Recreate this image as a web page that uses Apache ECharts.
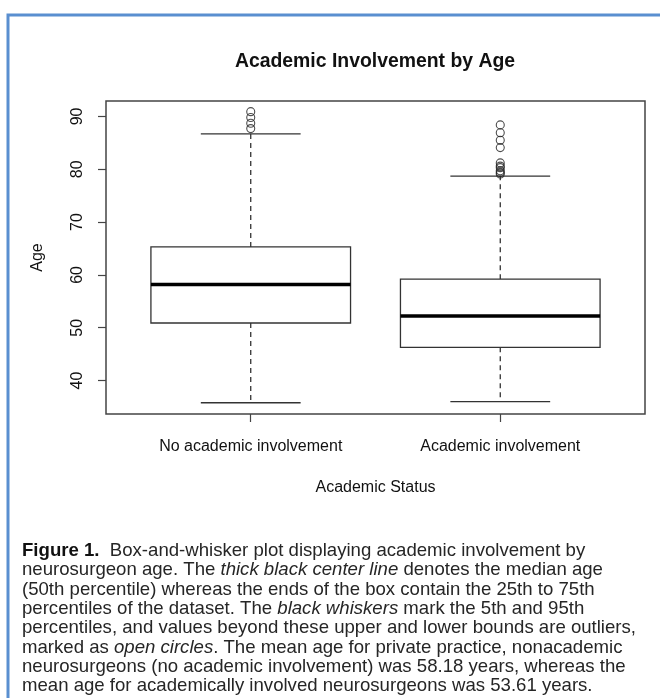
<!DOCTYPE html>
<html><head><meta charset="utf-8">
<script src="https://cdn.jsdelivr.net/npm/echarts@6/dist/echarts.min.js"></script>
<style>html,body{margin:0;padding:0;background:#fff}#c{width:660px;height:698px}</style>
</head><body><div id="c"></div>
<script>
const categories = ['No academic involvement', 'Academic involvement'];
const catPositions = [1, 2];
// [lower whisker, Q1, median, Q3, upper whisker]
const boxNoAcademic = [35.8, 50.9, 58.2, 65.3, 86.7];
const boxAcademic = [36.0, 46.3, 52.2, 59.2, 78.7];
const outliersNoAcademic = [87.7, 88.7, 89.8, 90.9];
const outliersAcademic = [79.1, 79.4, 79.7, 80.3, 80.6, 81.2, 84.1, 85.5, 86.9, 88.4];
const yTicks = [40, 50, 60, 70, 80, 90];
const titleText = 'Academic Involvement by Age';
const captionLines = [
  '{b|Figure 1.}  Box-and-whisker plot displaying academic involvement by',
  'neurosurgeon age. The {i|thick black center line} denotes the median age',
  '(50th percentile) whereas the ends of the box contain the 25th to 75th',
  'percentiles of the dataset. The {i|black whiskers} mark the 5th and 95th',
  'percentiles, and values beyond these upper and lower bounds are outliers,',
  'marked as {i|open circles}. The mean age for private practice, nonacademic',
  'neurosurgeons (no academic involvement) was 58.18 years, whereas the',
  'mean age for academically involved neurosurgeons was 53.61 years.'
];

const boxData = [
  [catPositions[0]].concat(boxNoAcademic),
  [catPositions[1]].concat(boxAcademic)
];
const outlierData = outliersNoAcademic.map(v => [catPositions[0], v])
  .concat(outliersAcademic.map(v => [catPositions[1], v]));

const FONT = "'Liberation Sans', Arial, sans-serif";
const CAP_SIZE = 18.6;
const CAP_COLOR = '#262626';
const chart = echarts.init(document.getElementById('c'), null, {renderer: 'canvas'});

const captionGraphics = captionLines.map((t, i) => ({
  type: 'text', x: 22, y: 551 + i * 19.3,
  style: {
    text: t, fontFamily: FONT, fontSize: CAP_SIZE, fill: CAP_COLOR, textVerticalAlign: 'middle',
    rich: {
      b: {fontWeight: 'bold', fontFamily: FONT, fontSize: CAP_SIZE, fill: '#111'},
      i: {fontStyle: 'italic', fontFamily: FONT, fontSize: CAP_SIZE, fill: CAP_COLOR}
    }
  }
}));

chart.setOption({
  animation: false,
  backgroundColor: '#fff',
  grid: {left: 106, top: 101, width: 539, height: 313, show: true, borderColor: '#444', borderWidth: 1.5, containLabel: false},
  xAxis: {
    type: 'value', min: 0.42, max: 2.58,
    name: 'Academic Status', nameLocation: 'middle', nameGap: 66,
    nameTextStyle: {fontFamily: FONT, fontSize: 16, color: '#111'},
    axisLine: {show: false},
    splitLine: {show: false},
    axisTick: {show: true, inside: false, length: 8, customValues: catPositions, lineStyle: {color: '#444', width: 1.2}},
    axisLabel: {show: true, margin: 25, customValues: catPositions, fontFamily: FONT, fontSize: 16, color: '#111',
      formatter: v => categories[catPositions.indexOf(Math.round(v))] || ''}
  },
  yAxis: {
    type: 'value', min: 33.67, max: 92.92,
    name: 'Age', nameLocation: 'middle', nameGap: 60, nameRotate: 90,
    nameTextStyle: {fontFamily: FONT, fontSize: 16, color: '#111'},
    axisLine: {show: false},
    splitLine: {show: false},
    axisTick: {show: true, inside: false, length: 8, customValues: yTicks, lineStyle: {color: '#444', width: 1.2}},
    axisLabel: {show: true, rotate: 90, margin: 20, customValues: yTicks, fontFamily: FONT, fontSize: 16, color: '#111',
      verticalAlign: 'bottom', align: 'center'}
  },
  graphic: [
    {type: 'rect', shape: {x: 8, y: 15, width: 720, height: 720}, style: {fill: 'none', stroke: '#5a8fd0', lineWidth: 3}, silent: true},
    {type: 'text', x: 375, y: 62, style: {text: titleText, fontFamily: FONT, fontSize: 19.4, fontWeight: 'bold', fill: '#111', textAlign: 'center', textVerticalAlign: 'middle'}}
  ].concat(captionGraphics),
  series: [
    {
      type: 'custom',
      data: boxData,
      z: 2,
      renderItem: function (params, api) {
        const x = api.value(0);
        const lo = api.value(1), q1 = api.value(2), med = api.value(3), q3 = api.value(4), hi = api.value(5);
        const half = api.size([0.4, 0])[0];
        const cx = api.coord([x, med])[0];
        const yLo = api.coord([x, lo])[1], yQ1 = api.coord([x, q1])[1], yMed = api.coord([x, med])[1];
        const yQ3 = api.coord([x, q3])[1], yHi = api.coord([x, hi])[1];
        const stroke = '#333';
        return {
          type: 'group',
          children: [
            {type: 'line', shape: {x1: cx, y1: yQ3, x2: cx, y2: yHi}, style: {stroke: stroke, lineWidth: 1.3, lineDash: [5, 4]}},
            {type: 'line', shape: {x1: cx, y1: yQ1, x2: cx, y2: yLo}, style: {stroke: stroke, lineWidth: 1.3, lineDash: [5, 4]}},
            {type: 'line', shape: {x1: cx - half / 2, y1: yHi, x2: cx + half / 2, y2: yHi}, style: {stroke: stroke, lineWidth: 1.3}},
            {type: 'line', shape: {x1: cx - half / 2, y1: yLo, x2: cx + half / 2, y2: yLo}, style: {stroke: stroke, lineWidth: 1.3}},
            {type: 'rect', shape: {x: cx - half, y: yQ3, width: 2 * half, height: yQ1 - yQ3}, style: {fill: '#fff', stroke: stroke, lineWidth: 1.3}},
            {type: 'line', shape: {x1: cx - half, y1: yMed, x2: cx + half, y2: yMed}, style: {stroke: '#000', lineWidth: 3.5}}
          ]
        };
      }
    },
    {
      type: 'scatter',
      data: outlierData,
      z: 3,
      symbol: 'circle',
      symbolSize: 8,
      itemStyle: {color: 'rgba(255,255,255,0)', borderColor: '#222', borderWidth: 1.1}
    }
  ]
});
</script></body></html>
